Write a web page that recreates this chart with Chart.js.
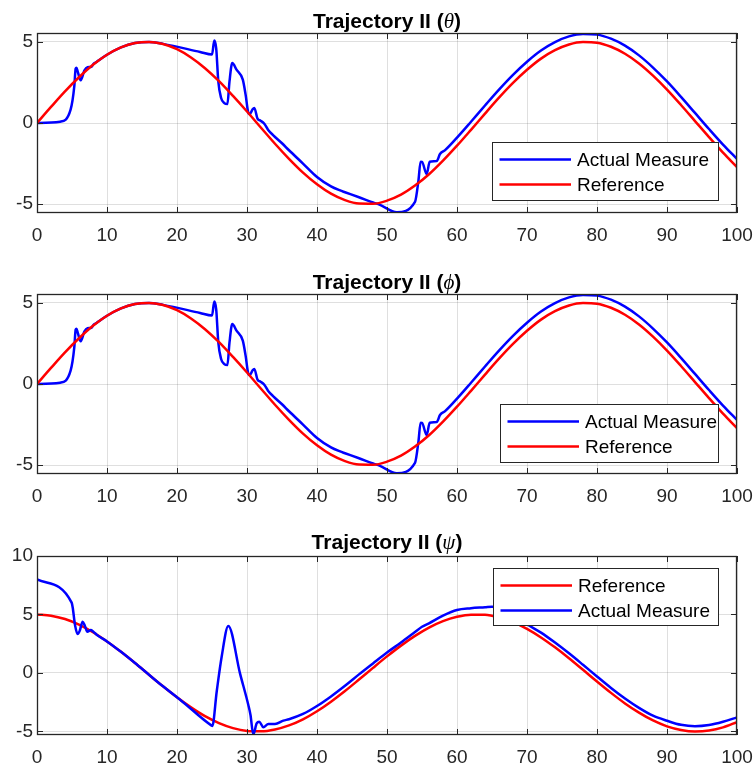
<!DOCTYPE html>
<html>
<head>
<meta charset="utf-8">
<script src="https://cdn.jsdelivr.net/npm/chart.js@4.4.1/dist/chart.umd.min.js"></script>
<style>
  html, body { margin: 0; padding: 0; background: #fff; }
  #page { position: relative; width: 756px; height: 767px; overflow: hidden; }
  .plot { position: absolute; left: 0; width: 756px; }
  .plot canvas { display: block; }
  .title {
    position: absolute; left: 37px; width: 700px; text-align: center;
    font: bold 21px "Liberation Sans", Arial, sans-serif; line-height: 21px;
    color: #000; white-space: nowrap;
  }
  .title i { font-family: "Liberation Serif", "DejaVu Serif", serif; font-weight: normal; font-style: italic; }
</style>
</head>
<body>
<div id="page">
  <div class="plot" style="top:0;height:250px"><canvas id="c1" width="756" height="250"></canvas></div>
  <div class="plot" style="top:250px;height:265px"><canvas id="c2" width="756" height="265"></canvas></div>
  <div class="plot" style="top:515px;height:252px"><canvas id="c3" width="756" height="252"></canvas></div>
  <div class="title" style="top:10px">Trajectory II (<i>θ</i>)</div>
  <div class="title" style="top:271px">Trajectory II (<i>ϕ</i>)</div>
  <div class="title" style="top:531px">Trajectory II (<i>ψ</i>)</div>
</div>
<script>
// ── Data ─────────────────────────────────────────────────────────
const xTicks = [0, 10, 20, 30, 40, 50, 60, 70, 80, 90, 100];
const yTicksAng = [-5, 0, 5];
const yTicksPsi = [-5, 0, 5, 10];

// reference trajectories, sampled every 2 s
const tRef = [0, 2, 4, 6, 8, 10, 12, 14, 16, 18, 20, 22, 24, 26, 28, 30, 32, 34, 36, 38, 40,
  42, 44, 46, 48, 50, 52, 54, 56, 58, 60, 62, 64, 66, 68, 70, 72, 74, 76, 78, 80,
  82, 84, 86, 88, 90, 92, 94, 96, 98, 100];
const thetaRef = [0, 0.99, 1.95, 2.82, 3.59, 4.21, 4.66, 4.93, 5.00, 4.87, 4.55, 4.04, 3.38, 2.58,
  1.67, 0.71, -0.29, -1.28, -2.21, -3.06, -3.78, -4.36, -4.76, -4.97, -4.98, -4.79, -4.42, -3.86,
  -3.16, -2.32, -1.40, -0.42, 0.58, 1.56, 2.47, 3.28, 3.97, 4.49, 4.84, 4.99, 4.95, 4.70, 4.27,
  3.67, 2.92, 2.06, 1.11, 0.12, -0.87, -1.83, -2.72];
const psiRef = [5.00, 4.90, 4.61, 4.13, 3.48, 2.70, 1.81, 0.85, -0.15, -1.14, -2.08, -2.94, -3.69,
  -4.28, -4.71, -4.95, -4.99, -4.83, -4.48, -3.96, -3.27, -2.45, -1.54, -0.56, 0.44, 1.42, 2.34,
  3.17, 3.88, 4.43, 4.80, 4.98, 4.97, 4.75, 4.35, 3.77, 3.04, 2.19, 1.26, 0.27, -0.73, -1.70,
  -2.60, -3.39, -4.06, -4.56, -4.87, -5.00, -4.92, -4.65, -4.20];

// measured theta (phi plot shows the same record)
const thetaActT = [0, 3.3, 4.8, 5.33, 5.52, 5.64, 5.8, 6.24, 6.76, 7.2, 7.8, 8.05, 8.5, 9, 10,
  12, 14, 16, 18, 23.3, 25.0, 25.33, 25.6, 25.9, 26.3, 26.76, 27.2, 27.5, 27.9, 28.5, 29.4, 29.8,
  30.2, 30.4, 30.8, 31.05, 31.5, 31.95, 32.5, 33.0, 33.76, 35, 36, 38, 40, 42, 43.3, 44, 46, 48,
  49, 51.4, 54, 54.5, 54.8, 55.0, 55.67, 56.1, 57.1, 57.57, 58.3, 60, 62, 64, 66, 68, 70, 72, 74,
  76, 78, 80, 82, 84, 86, 88, 90, 92, 94, 96, 98, 100];
const thetaActV = [0, 0.08, 0.82, 2.27, 3.35, 3.4, 3.2, 2.63, 3.23, 3.44, 3.46, 3.64, 3.76, 3.92,
  4.21, 4.66, 4.93, 5.00, 4.88, 4.38, 4.22, 5.08, 4.6, 2.57, 1.54, 1.23, 1.17, 2.57, 3.7, 3.29,
  2.67, 1.75, 0.62, 0.55, 0.85, 0.93, 0.27, 0.14, -0.06, -0.41, -0.76, -1.25, -1.68, -2.5, -3.33,
  -3.91, -4.16, -4.27, -4.58, -4.9, -5.05, -5.5, -4.86, -3.52, -2.39, -2.4, -3.15, -2.39, -2.35,
  -1.91, -1.67, -0.90, 0.08, 1.08, 2.06, 2.97, 3.78, 4.47, 4.99, 5.34, 5.49, 5.45, 5.20, 4.77,
  4.17, 3.42, 2.56, 1.61, 0.62, -0.37, -1.33, -2.22];

// measured psi
const psiActT = [0, 4.95, 5.1, 5.43, 5.81, 6.1, 6.52, 6.86, 7.19, 7.67, 8.05, 8.52, 10, 12, 14,
  16, 18, 20, 20.4, 24.95, 25.05, 25.67, 26.38, 27.33, 29.0, 30.19, 30.5, 30.9, 31.38, 31.76,
  32.33, 33.05, 34.0, 35.2, 36, 38, 40, 42, 44, 46, 48, 50, 52, 54, 55, 56, 58, 60, 62, 64, 65,
  66, 68, 70, 72, 74, 76, 78, 80, 82, 84, 86, 88, 90, 92, 94, 96, 98, 100];
const psiActV = [8.0, 6.01, 5.6, 4.1, 3.33, 3.6, 4.39, 4.0, 3.53, 3.67, 3.53, 3.27, 2.70, 1.81,
  0.85, -0.15, -1.14, -2.08, -2.26, -4.5, -4.53, -1.6, 1.39, 4.02, -0.03, -2.74, -3.59, -5.25,
  -4.3, -4.16, -4.64, -4.36, -4.36, -4.07, -3.95, -3.5, -2.82, -2.0, -1.09, -0.12, 0.82, 1.75,
  2.6, 3.5, 3.95, 4.25, 4.9, 5.38, 5.53, 5.62, 5.67, 5.6, 5.0, 4.17, 3.45, 2.6, 1.68, 0.7, -0.3,
  -1.28, -2.18, -2.98, -3.65, -4.08, -4.43, -4.55, -4.45, -4.17, -3.79];

const BLUE = '#0000FF';
const RED = '#FF0000';
const FONT = '"Liberation Sans", Arial, sans-serif';
const INK = '#262626';

const pts = (xs, ys) => xs.map((x, i) => ({ x, y: ys[i] }));

// ── Plugins ──────────────────────────────────────────────────────
// axes box with inward tick marks (matlab style)
const frame = {
  id: 'frame',
  afterDatasetsDraw(chart) {
    const { ctx, chartArea: a, scales: { x, y } } = chart;
    const L = 6;
    ctx.save();
    ctx.strokeStyle = INK;
    ctx.lineWidth = 1;
    ctx.beginPath();
    x.ticks.forEach(t => {
      const px = Math.round(x.getPixelForValue(t.value)) + 0.5;
      ctx.moveTo(px, a.bottom); ctx.lineTo(px, a.bottom - L);
      ctx.moveTo(px, a.top); ctx.lineTo(px, a.top + L);
    });
    y.ticks.forEach(t => {
      const py = Math.round(y.getPixelForValue(t.value)) + 0.5;
      ctx.moveTo(a.left, py); ctx.lineTo(a.left + L, py);
      ctx.moveTo(a.right, py); ctx.lineTo(a.right - L, py);
    });
    ctx.stroke();
    ctx.lineWidth = 1.3;
    ctx.strokeRect(a.left + 0.5, a.top + 0.5, a.width - 1, a.height - 1);
    ctx.restore();
  }
};

function boxLegend(cfg) {
  return {
    id: 'boxLegend',
    afterDraw(chart) {
      const { ctx, chartArea: a } = chart;
      const left = Math.round(a.right - cfg.right - cfg.width);
      const top = Math.round(a.top + cfg.top);
      ctx.save();
      ctx.fillStyle = '#fff';
      ctx.fillRect(left, top, cfg.width, cfg.height);
      ctx.strokeStyle = INK;
      ctx.lineWidth = 1;
      ctx.strokeRect(left + 0.5, top + 0.5, cfg.width, cfg.height);
      ctx.font = `19px ${FONT}`;
      ctx.textBaseline = 'middle';
      cfg.items.forEach((idx, i) => {
        const ds = chart.data.datasets[idx];
        const yy = top + 17.5 + i * 25;
        ctx.strokeStyle = ds.borderColor;
        ctx.lineWidth = 2.5;
        ctx.beginPath();
        ctx.moveTo(left + 7.5, yy);
        ctx.lineTo(left + 79, yy);
        ctx.stroke();
        ctx.fillStyle = '#000';
        ctx.fillText(ds.label, left + 85, yy + 1);
      });
      ctx.restore();
    }
  };
}

// ── Chart factory ────────────────────────────────────────────────
function line(label, data, color, order) {
  return {
    label, data, order,
    borderColor: color,
    backgroundColor: color,
    borderWidth: 2.5,
    pointRadius: 0,
    fill: false,
    cubicInterpolationMode: 'monotone',
  };
}

function makeChart(id, cfg) {
  return new Chart(document.getElementById(id), {
    type: 'line',
    data: { datasets: cfg.datasets },
    options: {
      responsive: false,
      animation: false,
      events: [],
      layout: { padding: { top: cfg.padTop, right: 19, bottom: 0, left: 0 } },
      plugins: { legend: { display: false }, tooltip: { enabled: false } },
      scales: {
        x: {
          type: 'linear', min: 0, max: 100,
          afterBuildTicks: s => { s.ticks = xTicks.map(v => ({ value: v })); },
          afterFit: s => { s.height = cfg.xAxisH; s.paddingLeft = 0; s.paddingRight = 0; },
          grid: { color: 'rgba(38,38,38,0.15)', drawTicks: false },
          border: { display: false },
          ticks: { color: INK, font: { family: FONT, size: 19 }, padding: 11, maxRotation: 0, autoSkip: false },
        },
        y: {
          type: 'linear', min: cfg.yMin, max: cfg.yMax,
          afterBuildTicks: s => { s.ticks = cfg.yTicks.map(v => ({ value: v })); },
          afterFit: s => { s.width = 37; s.paddingTop = 0; s.paddingBottom = 0; },
          grid: { color: 'rgba(38,38,38,0.15)', drawTicks: false },
          border: { display: false },
          ticks: { color: INK, font: { family: FONT, size: 19 }, padding: 4 },
        }
      }
    },
    plugins: [frame, boxLegend(cfg.legend)]
  });
}

// θ
makeChart('c1', {
  padTop: 33, xAxisH: 37, yMin: -5.55, yMax: 5.55, yTicks: yTicksAng,
  datasets: [
    line('Actual Measure', pts(thetaActT, thetaActV), BLUE, 1),
    line('Reference', pts(tRef, thetaRef), RED, 0),
  ],
  legend: { items: [0, 1], right: 19, top: 109, width: 226, height: 58 },
});

// ϕ
makeChart('c2', {
  padTop: 44, xAxisH: 41, yMin: -5.55, yMax: 5.55, yTicks: yTicksAng,
  datasets: [
    line('Actual Measure', pts(thetaActT, thetaActV), BLUE, 1),
    line('Reference', pts(tRef, thetaRef), RED, 0),
  ],
  legend: { items: [0, 1], right: 19, top: 110, width: 218, height: 58 },
});

// ψ
makeChart('c3', {
  padTop: 41, xAxisH: 32, yMin: -5.3, yMax: 10, yTicks: yTicksPsi,
  datasets: [
    line('Reference', pts(tRef, psiRef), RED, 1),
    line('Actual Measure', pts(psiActT, psiActV), BLUE, 0),
  ],
  legend: { items: [0, 1], right: 19, top: 12, width: 225, height: 57 },
});
</script>
</body>
</html>
